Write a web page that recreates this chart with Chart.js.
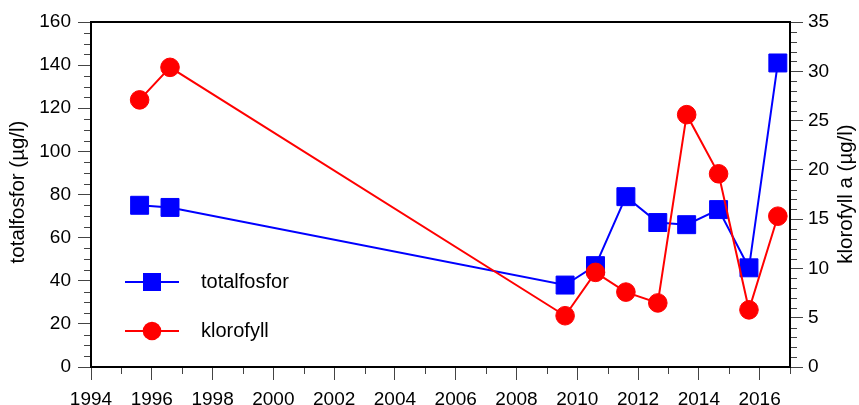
<!DOCTYPE html>
<html>
<head>
<meta charset="utf-8">
<script src="https://cdn.jsdelivr.net/npm/chart.js@4"></script>
<style>
  html, body { margin: 0; padding: 0; background: #fff; }
  #wrap { width: 859px; height: 405px; }
</style>
</head>
<body>
<div id="wrap"><canvas id="chart" width="859" height="405"></canvas></div>
<script>
const years = [1995.6, 1996.6, 2009.6, 2010.6, 2011.6, 2012.65, 2013.6, 2014.65, 2015.65, 2016.6];
const totalfosfor = [75, 74, 38, 47, 79, 67, 66, 73, 46, 141];
const klorofyll = [27.1, 30.4, 5.2, 9.6, 7.6, 6.5, 25.6, 19.6, 5.8, 15.3];
const xTicks = [1994, 1996, 1998, 2000, 2002, 2004, 2006, 2008, 2010, 2012, 2014, 2016];

const FONT = "'Liberation Sans', Arial, sans-serif";
const tickFont = 19;
const textFont = 20;
const titleFont = 20.5;

const toPoints = (xs, ys) => xs.map((x, i) => ({ x: x, y: ys[i] }));

// minor ticks, frame, legend and rotated axis titles
const decorations = {
  id: "decorations",
  afterDraw(chart) {
    const ctx = chart.ctx;
    const a = chart.chartArea;
    const sx = chart.scales.x, sl = chart.scales.yL, sr = chart.scales.yR;
    ctx.save();
    ctx.strokeStyle = "#444";
    ctx.lineWidth = 1;
    ctx.beginPath();
    for (let v = 1995; v <= 2017; v += 2) {
      const px = Math.round(sx.getPixelForValue(v)) + 0.5;
      ctx.moveTo(px, a.bottom); ctx.lineTo(px, a.bottom + 7);
    }
    for (let v = 5; v < 160; v += 5) {
      if (v % 20 === 0) continue;
      const py = Math.round(sl.getPixelForValue(v)) + 0.5;
      ctx.moveTo(a.left - 7, py); ctx.lineTo(a.left, py);
    }
    for (let v = 1; v < 35; v += 1) {
      if (v % 5 === 0) continue;
      const py = Math.round(sr.getPixelForValue(v)) + 0.5;
      ctx.moveTo(a.right, py); ctx.lineTo(a.right + 7, py);
    }
    ctx.stroke();

    ctx.strokeStyle = "#000";
    ctx.lineWidth = 2;
    ctx.strokeRect(a.left, a.top, a.right - a.left, a.bottom - a.top);

    // legend
    const items = [
      { label: "totalfosfor", color: "#0000ff", style: "rect", y: 282 },
      { label: "klorofyll", color: "#ff0000", style: "circle", y: 331 }
    ];
    items.forEach(it => {
      ctx.strokeStyle = it.color;
      ctx.lineWidth = 2;
      ctx.beginPath();
      ctx.moveTo(125, it.y); ctx.lineTo(179, it.y);
      ctx.stroke();
      ctx.fillStyle = it.color;
      if (it.style === "rect") {
        ctx.fillRect(143, it.y - 9, 18, 18);
      } else {
        ctx.beginPath();
        ctx.arc(152, it.y, 9.3, 0, Math.PI * 2);
        ctx.fill();
      }
      ctx.fillStyle = "#000";
      ctx.font = textFont + "px " + FONT;
      ctx.textBaseline = "middle";
      ctx.textAlign = "left";
      ctx.fillText(it.label, 201, it.y);
    });

    // axis titles
    ctx.font = titleFont + "px " + FONT;
    ctx.textAlign = "center";
    ctx.textBaseline = "middle";
    ctx.fillStyle = "#000";
    [[18, 192, "totalfosfor (µg/l)"], [846, 194, "klorofyll a (µg/l)"]].forEach(([x, y, t]) => {
      ctx.save();
      ctx.translate(x, y);
      ctx.rotate(-Math.PI / 2);
      ctx.fillText(t, 0, 0);
      ctx.restore();
    });
    ctx.restore();
  }
};

const ctx = document.getElementById("chart").getContext("2d");
new Chart(ctx, {
  type: "line",
  data: {
    datasets: [
      {
        label: "klorofyll",
        data: toPoints(years, klorofyll),
        yAxisID: "yR",
        borderColor: "#ff0000",
        backgroundColor: "#ff0000",
        borderWidth: 2,
        pointStyle: "circle",
        pointRadius: 9.3,
        pointBorderWidth: 1,
        tension: 0,
        order: 0
      },
      {
        label: "totalfosfor",
        data: toPoints(years, totalfosfor),
        yAxisID: "yL",
        borderColor: "#0000ff",
        backgroundColor: "#0000ff",
        borderWidth: 2,
        pointStyle: "rect",
        pointRadius: 12.7,
        pointBorderWidth: 1,
        tension: 0,
        order: 1
      }
    ]
  },
  options: {
    responsive: false,
    animation: false,
    layout: { padding: { top: 22, left: 0, right: 0, bottom: 0 } },
    plugins: { legend: { display: false }, tooltip: { enabled: false } },
    scales: {
      x: {
        type: "linear",
        min: 1994,
        max: 2017,
        afterBuildTicks: s => { s.ticks = xTicks.map(v => ({ value: v })); },
        afterFit: s => { s.height = 38; },
        grid: { drawOnChartArea: false, tickLength: 13, tickColor: "#444", tickWidth: 1 },
        border: { display: false },
        ticks: {
          color: "#000", font: { family: FONT, size: tickFont }, padding: 8, maxRotation: 0, autoSkip: false,
          callback: v => String(v)
        }
      },
      yL: {
        type: "linear",
        position: "left",
        min: 0,
        max: 160,
        afterFit: s => { s.width = 91; },
        grid: { drawOnChartArea: false, tickLength: 13, tickColor: "#444", tickWidth: 1 },
        border: { display: false },
        ticks: { stepSize: 20, color: "#000", font: { family: FONT, size: tickFont }, padding: 7 }
      },
      yR: {
        type: "linear",
        position: "right",
        min: 0,
        max: 35,
        afterFit: s => { s.width = 69; },
        grid: { drawOnChartArea: false, tickLength: 13, tickColor: "#444", tickWidth: 1 },
        border: { display: false },
        ticks: { stepSize: 5, color: "#000", font: { family: FONT, size: tickFont }, padding: 5 }
      }
    }
  },
  plugins: [decorations]
});
</script>
</body>
</html>
